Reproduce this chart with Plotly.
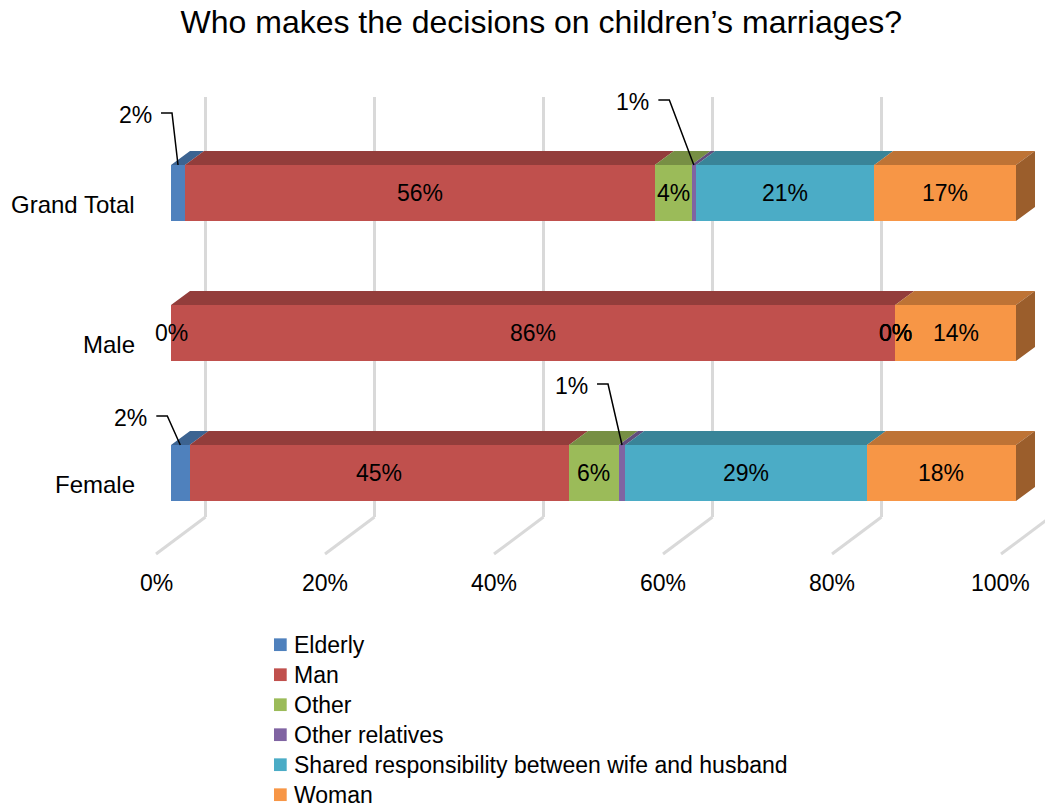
import plotly.graph_objects as go

# ---- data: share of respondents (%) per decision maker ----
categories = ["Grand Total", "Male", "Female"]
series_names = [
    "Elderly",
    "Man",
    "Other",
    "Other relatives",
    "Shared responsibility between wife and husband",
    "Woman",
]
elderly = [1.66, 0.0, 2.2]
man = [55.6, 85.7, 44.9]
other = [4.34, 0.0, 5.9]
other_relatives = [0.55, 0.0, 0.75]
shared = [21.07, 0.0, 28.6]
woman = [16.78, 14.3, 17.65]
tick_values = [0, 20, 40, 60, 80, 100]
tick_labels = ["0%", "20%", "40%", "60%", "80%", "100%"]

series_values = [elderly, man, other, other_relatives, shared, woman]
colors = ["#4F81BD", "#C0504D", "#9BBB59", "#8064A2", "#4BACC6", "#F79646"]

# ---- layout geometry (pixel scale of the axes) ----
W, H = 1045, 808
PX_PER_PCT = 8.45          # horizontal pixels per percentage point
PX_PER_ROW = 140           # vertical pixels per category row
X0_PX = 171                # pixel of x = 0
ROW0_PX = 473              # pixel of the lowest row centre
PLOT_L, PLOT_R, PLOT_T, PLOT_B = 140, 1045, 60, 575

def ux(px):  # horizontal pixels -> data units
    return px / PX_PER_PCT

def uy(px):  # vertical pixels -> data units
    return px / PX_PER_ROW

x_range = [(PLOT_L - X0_PX) / PX_PER_PCT, (PLOT_R - X0_PX) / PX_PER_PCT]
y_range = [(ROW0_PX - PLOT_B) / PX_PER_ROW, (ROW0_PX - PLOT_T) / PX_PER_ROW]

# data units -> paper fractions (used for text placed outside the axis ranges)
def paper_x_from_data(x):
    return (x - x_range[0]) / (x_range[1] - x_range[0])

def paper_y_from_data(y):
    return (y - y_range[0]) / (y_range[1] - y_range[0])

def paper_x(px):
    return (px - PLOT_L) / (PLOT_R - PLOT_L)

def paper_y(py):
    return (PLOT_B - py) / (PLOT_B - PLOT_T)

HALF = 0.2                 # half bar thickness (row units)
DEPTH_X = ux(19)           # 3-D depth offset of the bars
DEPTH_Y = uy(14)
WALL_X, WALL_Y = ux(34.5), uy(-44)      # back wall offset / floor line at wall
FLOOR_X, FLOOR_Y = ux(-15), uy(-81)     # front edge of the floor

ypos = {"Grand Total": 2, "Male": 1, "Female": 0}
FONT = "Liberation Sans, Arial, sans-serif"


def shade(hex_color, f):
    h = hex_color.lstrip("#")
    r, g, b = (int(h[i:i + 2], 16) for i in (0, 2, 4))
    return "#%02x%02x%02x" % (int(r * f), int(g * f), int(b * f))


fig = go.Figure()

# cumulative starts of each segment
starts = []
cum = [0.0] * len(categories)
for vals in series_values:
    starts.append(list(cum))
    cum = [c + v for c, v in zip(cum, vals)]

ys = [ypos[c] for c in categories]

# front faces
for name, vals, base, col in zip(series_names, series_values, starts, colors):
    fig.add_trace(go.Bar(
        y=ys, x=vals, base=base, orientation="h", width=2 * HALF,
        marker=dict(color=col, line=dict(width=0)),
        name=name, showlegend=False,
        hovertemplate="%{y}: %{x:.1f}%<extra>" + name + "</extra>",
    ))

# top faces
for vals, base, col in zip(series_values, starts, colors):
    px, py = [], []
    for v, b, y in zip(vals, base, ys):
        if v <= 0:
            continue
        top = y + HALF
        px += [b, b + v, b + v + DEPTH_X, b + DEPTH_X, b, None]
        py += [top, top, top + DEPTH_Y, top + DEPTH_Y, top, None]
    fig.add_trace(go.Scatter(
        x=px, y=py, mode="lines", fill="toself",
        fillcolor=shade(col, 0.77), line=dict(width=0),
        hoverinfo="skip", showlegend=False,
    ))

# right side faces of the last segment
side_x, side_y = [], []
for base, vals, y in zip(starts[-1], series_values[-1], ys):
    end = base + vals
    side_x += [end, end, end + DEPTH_X, end + DEPTH_X, end, None]
    side_y += [y - HALF, y + HALF, y + HALF + DEPTH_Y, y - HALF + DEPTH_Y, y - HALF, None]
fig.add_trace(go.Scatter(
    x=side_x, y=side_y, mode="lines", fill="toself",
    fillcolor=shade(colors[-1], 0.63), line=dict(width=0),
    hoverinfo="skip", showlegend=False,
))

# back wall gridlines and floor lines
GRID = "#d9d9d9"
WALL_TOP = uy(ROW0_PX - 97)
shapes = []
for t in tick_values:
    shapes.append(dict(type="line", xref="x", yref="y", layer="below",
                       x0=t + WALL_X, x1=t + WALL_X, y0=WALL_TOP, y1=WALL_Y,
                       line=dict(color=GRID, width=3)))
    shapes.append(dict(type="line", xref="x", yref="y", layer="below",
                       x0=t + WALL_X, x1=t + FLOOR_X, y0=WALL_Y, y1=FLOOR_Y,
                       line=dict(color=GRID, width=3)))

annotations = []
label_font = dict(family=FONT, size=23, color="#000000")
category_font = dict(family=FONT, size=24, color="#000000")


def text_at(x, y, text, xanchor="center", font=label_font):
    """Place text at data coordinates (x, y), even outside the axis ranges."""
    annotations.append(dict(x=paper_x_from_data(x), y=paper_y_from_data(y),
                            xref="paper", yref="paper", text=text, showarrow=False,
                            font=font, xanchor=xanchor, yanchor="middle"))


# value axis labels along the floor edge
for t, lab in zip(tick_values, tick_labels):
    text_at(t + FLOOR_X, uy(ROW0_PX - 583), lab)

# category labels
for c in categories:
    text_at(ux(137 - X0_PX), ypos[c] - uy(11), c, xanchor="right", font=category_font)

# data labels; thin segments get a callout with a leader line
callout_offsets = {
    ("Grand Total", "Elderly"): (-43, -50),
    ("Grand Total", "Other relatives"): (-61.5, -63),
    ("Female", "Elderly"): (-50, -27),
    ("Female", "Other relatives"): (-51, -59),
}
for name, vals, base in zip(series_names, series_values, starts):
    for c, v, b in zip(categories, vals, base):
        y = ypos[c]
        cx = b + v / 2
        text = "%d%%" % round(v)
        key = (c, name)
        if key in callout_offsets:
            ox, oy = callout_offsets[key]
            lx, ly = cx + ux(ox), y + HALF - uy(oy)
            text_at(lx, ly, text)
            fig.add_trace(go.Scatter(
                x=[lx + ux(26), lx + ux(37), cx],
                y=[ly + uy(2), ly + uy(2), y + HALF],
                mode="lines", line=dict(color="#000000", width=1.5),
                hoverinfo="skip", showlegend=False,
            ))
        else:
            text_at(cx, y, text)

# legend
LEG_X, LEG_Y0, LEG_STEP, SW = 274, 644.7, 30, 12.7
for i, (name, col) in enumerate(zip(series_names, colors)):
    cy = LEG_Y0 + i * LEG_STEP
    shapes.append(dict(type="rect", xref="paper", yref="paper",
                       x0=paper_x(LEG_X), x1=paper_x(LEG_X + SW),
                       y0=paper_y(cy + SW / 2), y1=paper_y(cy - SW / 2),
                       fillcolor=col, line=dict(width=0)))
    annotations.append(dict(x=paper_x(LEG_X + SW + 5), y=paper_y(cy), xref="paper",
                            yref="paper", text=name, showarrow=False, font=label_font,
                            xanchor="left", yanchor="middle"))

fig.update_layout(
    width=W, height=H,
    margin=dict(l=PLOT_L, r=W - PLOT_R, t=PLOT_T, b=H - PLOT_B, autoexpand=False),
    paper_bgcolor="#ffffff", plot_bgcolor="#ffffff",
    barmode="overlay", bargap=0,
    title=dict(text="Who makes the decisions on children’s marriages?",
               font=dict(family=FONT, size=32, color="#000000"),
               x=0.518, xref="container", xanchor="center",
               y=1 - 22 / H, yref="container", yanchor="middle"),
    xaxis=dict(range=x_range, visible=False, fixedrange=True),
    yaxis=dict(range=y_range, visible=False, fixedrange=True),
    shapes=shapes, annotations=annotations,
    showlegend=False,
)

fig.write_html("out.html")
